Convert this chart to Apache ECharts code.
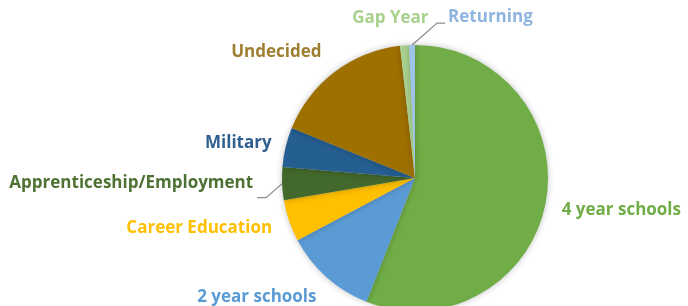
<!DOCTYPE html>
<html>
<head>
<meta charset="utf-8">
<script src="https://cdn.jsdelivr.net/npm/echarts@6/dist/echarts.min.js"></script>
<style>
  html, body { margin: 0; padding: 0; background: #fff; }
  #chart { width: 688px; height: 306px; }
</style>
</head>
<body>
<div id="chart"></div>
<script>
// categories, clockwise from 12 o'clock
const categories = ["4 year schools", "2 year schools", "Career Education", "Apprenticeship/Employment",
	"Military", "Undecided", "Gap Year", "Returning"];
// share of students (%)
const shares = [56.0, 11.3, 5.1, 4.0, 4.8, 17.1, 1.1, 0.7];

// styles
const sliceColors = ["#70AD47", "#5B9BD5", "#FFC000", "#43682B", "#255E91", "#9E7000", "#A9D18E", "#9DC3E6"];
const labelColors = ["#70AD47", "#5B9BD5", "#FFC000", "#4E7233", "#2E5F8E", "#9E7E30", "#A9D18E", "#8FB4E0"];
// label placement relative to the outer middle point of each slice: [dx, dy, align]
const labelPlace = [[16, 7, "left"], [-10, 20, "right"], [-17, 7, "right"], [-29, 0, "right"],
	[-14, -4, "right"], [-13, -20, "right"], [24, -27, "right"], [36, -28, "left"]];
// leader lines only where the reference draws one: list of [dx, dy] bends
const leaderBends = {
	3: [[-16, 14], [-25, 14]],
	7: [[25, -22], [33, -22]]
};

const chart = echarts.init(document.getElementById("chart"), null, { renderer: "canvas" });

chart.setOption({
	animation: false,
	series: [
		{
			type: "pie",
			center: [415, 178],
			radius: 133,
			startAngle: 90,
			clockwise: true,
			avoidLabelOverlap: false,
			itemStyle: {
				shadowBlur: 6,
				shadowColor: "rgba(0,0,0,0.25)"
			},
			label: {
				position: "outside",
				fontFamily: "Open Sans",
				fontWeight: "bold",
				fontSize: 17
			},
			labelLine: {
				show: true,
				length: 10,
				length2: 10,
				lineStyle: { color: "#8c8c8c", width: 1.2 }
			},
			labelLayout: params => {
				const i = params.dataIndex;
				const p0 = params.labelLinePoints[0];
				const [dx, dy, align] = labelPlace[i];
				const out = {
					x: p0[0] + dx,
					y: p0[1] + dy,
					align,
					verticalAlign: "middle"
				};
				const bends = leaderBends[i] || [];
				out.labelLinePoints = [p0].concat(bends.map(b => [p0[0] + b[0], p0[1] + b[1]]));
				if (bends.length === 0) {
					out.labelLinePoints = [p0, p0, p0];
				}
				return out;
			},
			data: categories.map((name, i) => ({
				name,
				value: shares[i],
				itemStyle: { color: sliceColors[i] },
				label: { color: labelColors[i] },
				labelLine: { lineStyle: { opacity: leaderBends[i] ? 1 : 0 } }
			}))
		}
	]
});
</script>
</body>
</html>
